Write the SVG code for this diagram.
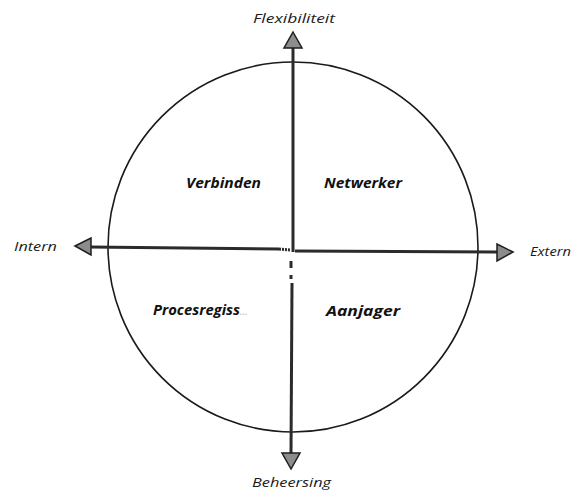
<svg xmlns="http://www.w3.org/2000/svg" width="573" height="492" viewBox="0 0 573 492">
<style>
.axis{stroke:#2b2b2b;stroke-width:3;fill:none;stroke-linecap:butt}
.head{fill:#8c8c8c;stroke:#1e1e1e;stroke-width:1.5;stroke-linejoin:miter}
.lbl{font-family:"Open Sans","DejaVu Sans",sans-serif;font-style:italic;font-size:13.5px;fill:#1a1a1a}
.q{font-family:"Open Sans","DejaVu Sans",sans-serif;font-style:italic;font-weight:bold;font-size:14px;fill:#111}
</style>
<rect width="573" height="492" fill="#ffffff"/>
<g id="circle">
<circle cx="293" cy="247" r="185" fill="none" stroke="#1a1a1a" stroke-width="1.6"/>
</g>
<g id="connectors">
<line class="axis" x1="293" y1="47" x2="293" y2="252"/>
<line class="axis" x1="292" y1="283" x2="291" y2="453"/>
<line class="axis" x1="291" y1="261" x2="291" y2="268" stroke-width="2"/>
<line class="axis" x1="291" y1="275" x2="291" y2="279" stroke-width="2"/>
<line class="axis" x1="90" y1="247" x2="279" y2="249"/>
<line class="axis" x1="279" y1="249" x2="290" y2="250" stroke-dasharray="2 1" stroke-width="2"/>
<line class="axis" x1="295" y1="251" x2="497" y2="252"/>
<polygon class="head" points="293,32 302,48 284,48"/>
<polygon class="head" points="291,469 282,453 300,453"/>
<polygon class="head" points="75,246 91,238 91,255"/>
<polygon class="head" points="513,252 497,244 497,261"/>
</g>
<g id="label-flexibiliteit"><text class="lbl" x="253" y="23" textLength="82" lengthAdjust="spacingAndGlyphs">Flexibiliteit</text></g>
<g id="label-intern"><text class="lbl" x="14" y="251" textLength="43" lengthAdjust="spacingAndGlyphs">Intern</text></g>
<g id="label-extern"><text class="lbl" x="530" y="256" textLength="41" lengthAdjust="spacingAndGlyphs">Extern</text></g>
<g id="label-beheersing"><text class="lbl" x="252" y="487" textLength="79" lengthAdjust="spacingAndGlyphs">Beheersing</text></g>
<g id="node-verbinden"><text class="q" x="186" y="188" textLength="75" lengthAdjust="spacingAndGlyphs">Verbinden</text></g>
<g id="node-netwerker"><text class="q" x="324" y="188" textLength="78" lengthAdjust="spacingAndGlyphs">Netwerker</text></g>
<g id="node-procesregisseur"><text class="q" x="153" y="315"><tspan textLength="87" lengthAdjust="spacingAndGlyphs">Procesregiss</tspan><tspan fill="#b5b5b5" font-weight="normal" font-size="10">…</tspan></text></g>
<g id="node-aanjager"><text class="q" x="326" y="316" textLength="74" lengthAdjust="spacingAndGlyphs">Aanjager</text></g>
</svg>
